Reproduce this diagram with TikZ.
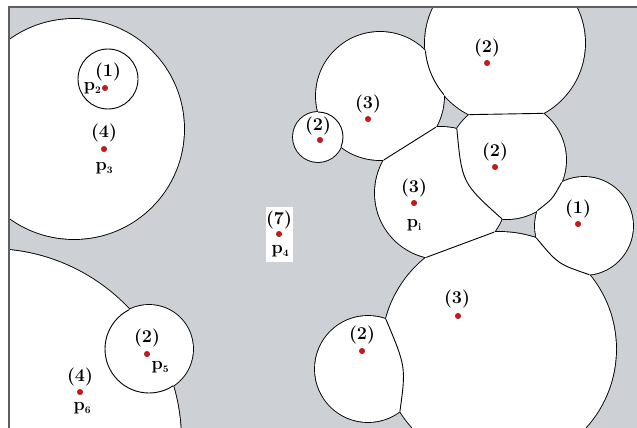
\documentclass[tikz,border=0pt]{standalone}
\usepackage{fontspec}
\usetikzlibrary{intersections}
\definecolor{bg}{RGB}{205,208,213}
\definecolor{dotred}{RGB}{210,20,20}
\definecolor{framec}{RGB}{95,95,95}
\newcommand\psub[1]{p\raisebox{-0.4ex}{\fontsize{10}{10}\selectfont #1}}
\begin{document}
\begin{tikzpicture}[x=1pt,y=-1pt,
  sep/.style={draw=black, line width=0.9pt},
  rim/.style={draw=black, line width=1.8pt},
  site/.style={circle, fill=dotred, draw=dotred!60!black, line width=0.3pt, inner sep=0pt, minimum size=5.5pt},
  lab/.style={font=\fontsize{18}{18}\selectfont\bfseries, inner sep=0pt},
  plab/.style={font=\fontsize{18}{18}\selectfont\bfseries, inner sep=0pt}]
\useasboundingbox (0,0) rectangle (637,428);
\fill[bg] (9,7) rectangle (637,428);
\def\cells{Q/74/129/110, W/-10/440/191, V/149/349/44, T/505/43/80, U/380/96/64, S/318/137/25, M/507/160/59, P/441/193/66, R/584/226/49, B/499/349/117, L/368/369/53}
\foreach \n/\x/\y/\r in \cells {\path[name path global=c\n] (\x,\y) circle[radius=\r];}
\begin{scope}
  \clip (9,7) rectangle (637,428);
  % union of discs: outer rim
  \foreach \n/\x/\y/\r in \cells {\draw[rim] (\x,\y) circle[radius=\r];}
  \foreach \n/\x/\y/\r in \cells {\fill[white] (\x,\y) circle[radius=\r];}
  % nested / overlapping arcs
  \draw[sep] (108,79) circle[radius=30];
  \begin{scope}\clip (-10,440) circle[radius=191]; \draw[sep] (149,349) circle[radius=44];\end{scope}
  \begin{scope}\clip (380,96) circle[radius=64]; \draw[sep] (505,43) circle[radius=80];\end{scope}
  \begin{scope}\clip (380,96) circle[radius=64]; \draw[sep] (318,137) circle[radius=25];\end{scope}
  % boundaries between cells
  \path[name intersections={of=cT and cM, name=TM}];
  \path[name intersections={of=cU and cP, name=UP}];
  \path[name intersections={of=cP and cM, name=PM}];
  \path[name intersections={of=cP and cB, name=PB}];
  \path[name intersections={of=cM and cR, name=MR}];
  \path[name intersections={of=cR and cB, name=RB}];
  \path[name intersections={of=cB and cL, name=BL}];
  \draw[sep] (TM-1) -- (TM-2);
  \draw[sep] (UP-1) -- (UP-2);
  \draw[sep] (PM-1) .. controls (462,183) .. (PM-2);
  \draw[sep] (PB-1) -- (PB-2);
  \draw[sep] (MR-1) .. controls (552.5,199) .. (MR-2);
  \draw[sep] (RB-1) .. controls (558,264) .. (RB-2);
  \draw[sep] (BL-1) .. controls (406,367) .. (BL-2);
\end{scope}
% frame
\draw[framec, line width=1.6pt] (9,428) -- (9,7) -- (637,7);
% p4 box
\fill[white] (266,207) rectangle (293,262);
% sites and labels
\node[site] (d2) at (105,88) {};
\node[lab] (l2) at (108,72) {(1)};
\node[plab, anchor=east] (p2) at (101,88) {\psub{2}};
\node[site] (d3) at (104,149) {};
\node[lab] (l3) at (104,133) {(4)};
\node[plab] (p3) at (104,168) {\psub{3}};
\node[site] (d5) at (147,354) {};
\node[lab] (l5) at (147,338) {(2)};
\node[plab] (p5) at (160,367) {\psub{5}};
\node[site] (d6) at (80,392) {};
\node[lab] (l6) at (80,377) {(4)};
\node[plab] (p6) at (82,408) {\psub{6}};
\node[site] (d4) at (279,234) {};
\node[lab] (l4) at (279,220) {(7)};
\node[plab] (p4) at (280,251) {\psub{4}};
\node[site] (dT) at (487,63) {};
\node[lab] (lT) at (487,48) {(2)};
\node[site] (dU) at (368,119) {};
\node[lab] (lU) at (368,104) {(3)};
\node[site] (dS) at (320,140) {};
\node[lab] (lS) at (318,126) {(2)};
\node[site] (dM) at (495,167) {};
\node[lab] (lM) at (495,152) {(2)};
\node[site] (dP) at (414,203) {};
\node[lab] (lP) at (414,188) {(3)};
\node[plab] (pi) at (414,225) {\psub{i}};
\node[site] (dR) at (578,224) {};
\node[lab] (lR) at (578,209) {(1)};
\node[site] (dB) at (458,316) {};
\node[lab] (lB) at (457,299) {(3)};
\node[site] (dL) at (362,351) {};
\node[lab] (lL) at (362,335) {(2)};
\end{tikzpicture}
\end{document}
